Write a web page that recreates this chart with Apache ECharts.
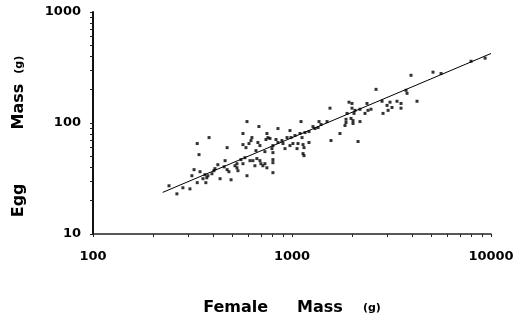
<!DOCTYPE html>
<html>
<head>
<meta charset="utf-8">
<script src="https://cdn.jsdelivr.net/npm/echarts@6/dist/echarts.min.js"></script>
<style>html,body{margin:0;padding:0;background:#fff;}#c{width:513px;height:320px;}</style>
</head>
<body>
<div id="c"></div>
<script>
// Female mass (g) of each point
var femaleMass = [241,264,283,307,314,322,334,345,357,369,373,378,396,405,435,494,456,472,482,517,529,535,529,334,383,341,472,461,410,365,424,
594,682,567,748,757,850,977,1110,1275,1367,629,608,567,587,674,690,740,775,831,890,901,850,802,793,802,944,988,1035,1097,1162,1217,1011,1072,1136,1060,1136,1217,
554,580,615,636,666,690,698,714,651,567,748,731,802,802,802,594,622,659,731,922,977,1123,1149,1149,1305,1352,1399,1500,1552,1570,1742,1846,1868,1868,1890,1934,2002,2002,1979,2026,2026,2073,2049,2147,2196,2196,2327,2381,2409,2495,2644,2834,2867,3004,3108,3180,3370,3530,3530,3741,3785,4248,3963,5112,5610,7940,9340,3040];
// Egg mass (g) of each point
var eggMass = [27.2,23.0,26.1,25.5,33.5,38.0,29.0,36.4,31.5,29.0,32.1,33.5,34.9,37.2,31.5,30.8,40.3,38.0,36.4,41.2,39.5,37.2,43.0,65.3,73.9,51.9,60.0,45.8,38.8,34.2,42.1,
103,92.9,80.4,80.4,73.9,89.1,85.5,103,92.9,103,73.9,65.3,63.9,60.0,66.7,62.6,71.0,72.5,71.0,69.5,65.3,66.7,62.6,58.8,54.1,73.9,73.9,77.1,80.4,82.0,83.7,65.3,65.3,63.9,58.8,53.0,66.7,
46.8,48.7,45.8,45.8,47.8,45.8,43.0,41.2,41.2,43.0,39.5,43.0,46.8,43.9,35.7,33.5,69.5,56.4,55.2,58.8,62.6,73.9,60.0,50.8,89.1,91.0,96.9,103,136,69.5,80.4,94.9,108,101,122,154,150,136,110,105,99,130,122,68.1,133,103,122,150,130,133,201,157,122,144,154,138,157,150,136,197,185,157,269,287,279,360,384,130];
// Fitted regression line end points
var fitX = [224, 10000];
var fitY = [23.7, 423];
// Axis tick labels
var xTickLabels = [100, 1000, 10000];
var yTickLabels = [10, 100, 1000];
var xTicks = [100,200,300,400,500,600,700,800,900,1000,2000,3000,4000,5000,6000,7000,8000,9000,10000];
var yTicks = [10,20,30,40,50,60,70,80,90,100,200,300,400,500,600,700,800,900,1000];

var pts = femaleMass.map(function(v, i){ return [v, eggMass[i]]; });
var line = fitX.map(function(v, i){ return [v, fitY[i]]; });
var plain = function(v){ return String(Math.round(v)); };

var F = 'DejaVu Sans';
var chart = echarts.init(document.getElementById('c'), null, {renderer: 'canvas'});
chart.setOption({
  animation: false,
  backgroundColor: '#fff',
  grid: {left: 93, right: 22, top: 12, bottom: 86, containLabel: false, outerBoundsMode: 'none'},
  xAxis: {
    type: 'log', logBase: 10, min: 100, max: 10000,
    axisLine: {show: true, lineStyle: {color: '#222', width: 1.5}},
    axisTick: {show: true, inside: false, length: 3, lineStyle: {color: '#222', width: 1}, customValues: xTicks},
    axisLabel: {customValues: xTickLabels, formatter: plain, margin: 16, color: '#000', fontFamily: F, fontWeight: 'bold', fontSize: 13},
    splitLine: {show: false},
    name: '{a|Female}{b|Mass}{c|(g)}',
    nameLocation: 'middle', nameGap: 66,
    nameTextStyle: {
      rich: {
        a: {fontFamily: F, fontWeight: 'bold', fontSize: 16, color: '#000', padding: [0, 29, 0, 0]},
        b: {fontFamily: F, fontWeight: 'bold', fontSize: 16, color: '#000', padding: [0, 20, 0, 0]},
        c: {fontFamily: F, fontWeight: 'bold', fontSize: 11, color: '#000'}
      }
    }
  },
  yAxis: {
    type: 'log', logBase: 10, min: 10, max: 1000,
    axisLine: {show: true, lineStyle: {color: '#111', width: 2}},
    axisTick: {show: true, inside: false, length: 3, lineStyle: {color: '#222', width: 1}, customValues: yTicks},
    axisLabel: {customValues: yTickLabels, formatter: plain, margin: 12, color: '#000', fontFamily: F, fontWeight: 'bold', fontSize: 13},
    splitLine: {show: false},
    name: '{a|Egg}{b|Mass}{c|(g)}',
    nameLocation: 'middle', nameGap: 66, nameRotate: 90,
    nameTextStyle: {
      rich: {
        a: {fontFamily: F, fontWeight: 'bold', fontSize: 16, color: '#000', padding: [0, 54, 0, 0]},
        b: {fontFamily: F, fontWeight: 'bold', fontSize: 16, color: '#000', padding: [0, 10, 0, 0]},
        c: {fontFamily: F, fontWeight: 'bold', fontSize: 11, color: '#000', padding: [0, 27, 0, 0]}
      }
    }
  },
  series: [
    {type: 'scatter', data: pts, symbol: 'rect', symbolSize: 3, itemStyle: {color: '#000'}, z: 3},
    {type: 'line', data: line, symbol: 'none', lineStyle: {color: '#000', width: 1}, z: 2}
  ]
});
</script>
</body>
</html>
